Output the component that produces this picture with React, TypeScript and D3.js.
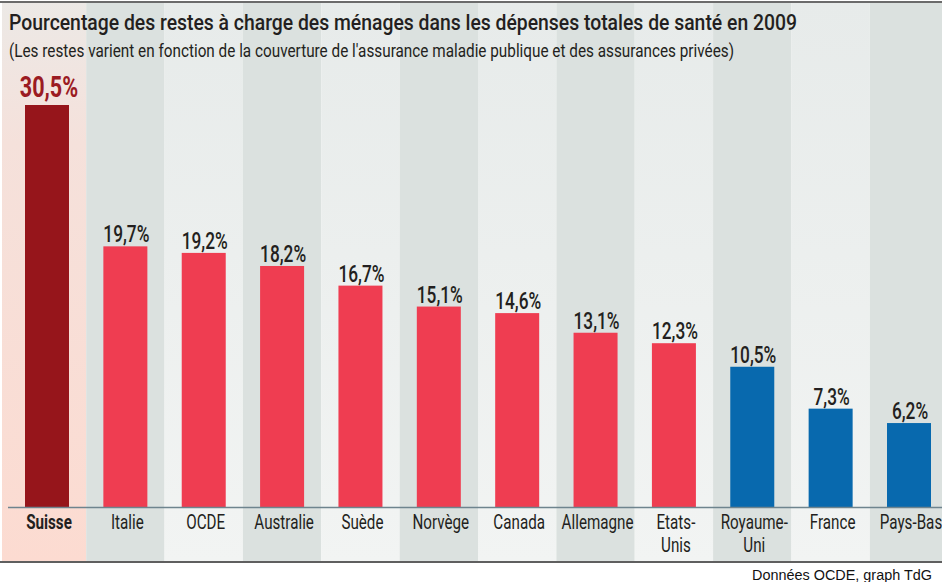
import React from "react";
import * as d3 from "d3";

const categories = ["Suisse", "Italie", "OCDE", "Australie", "Suède", "Norvège", "Canada", "Allemagne", "Etats-Unis", "Royaume-Uni", "France", "Pays-Bas"];
const labelLines = [["Suisse"], ["Italie"], ["OCDE"], ["Australie"], ["Suède"], ["Norvège"], ["Canada"], ["Allemagne"], ["Etats-", "Unis"], ["Royaume-", "Uni"], ["France"], ["Pays-Bas"]];
const values = [30.5, 19.7, 19.2, 18.2, 16.7, 15.1, 14.6, 13.1, 12.3, 10.5, 7.3, 6.2];
const valueLabels = ["30,5%", "19,7%", "19,2%", "18,2%", "16,7%", "15,1%", "14,6%", "13,1%", "12,3%", "10,5%", "7,3%", "6,2%"];
const groups = ["ch", "red", "red", "red", "red", "red", "red", "red", "red", "blue", "blue", "blue"];

const title = "Pourcentage des restes à charge des ménages dans les dépenses totales de santé en 2009";
const subtitle = "(Les restes varient en fonction de la couverture de l'assurance maladie publique et des assurances privées)";
const source = "Données OCDE, graph TdG";

const W = 942;
const H = 582;
const colors: Record<string, string> = { ch: "#96151b", red: "#ef3d51", blue: "#0869ae" };

export default function App() {
  const x = d3.scalePoint<string>().domain(categories).range([47, 909]);
  const y = d3.scaleLinear().domain([0, 30.5]).range([504.2, 105]);
  const baseline = 507;
  const step = x.step();
  const barW = 44;
  const font = "Roboto, 'Noto Sans', sans-serif";

  return (
    <svg width={W} height={H} style={{ position: "absolute", left: 0, top: 0, background: "#fff" }}>
      <defs>
        <linearGradient id="pink" x1="0" y1="0" x2="0" y2="1">
          <stop offset="0" stopColor="#ece9e6" />
          <stop offset="0.25" stopColor="#f5e1db" />
          <stop offset="1" stopColor="#fcdbd1" />
        </linearGradient>
        <linearGradient id="light" x1="0" y1="0" x2="0" y2="1">
          <stop offset="0" stopColor="#e7ebea" />
          <stop offset="1" stopColor="#f2f4f3" />
        </linearGradient>
      </defs>
      {categories.map((c, i) => {
        const cx = x(c)!;
        const x0 = i === 0 ? 2 : cx - step / 2;
        const x1 = i === categories.length - 1 ? W : cx + step / 2;
        const fill = i === 0 ? "url(#pink)" : i % 2 === 1 ? "#dbe1df" : "url(#light)";
        return <rect key={"bg" + c} x={x0} y={2} width={x1 - x0} height={560} fill={fill} />;
      })}
      <line x1={0} x2={W} y1={2} y2={2} stroke="#6b6b6b" strokeWidth={2} />
      <line x1={0} x2={W} y1={562} y2={562} stroke="#5f5f5f" strokeWidth={2} />

      <text x={9} y={30} fontFamily={font} fontWeight={500} fontSize={22} fill="#231f20" textLength={788} lengthAdjust="spacingAndGlyphs">{title}</text>
      <text x={9} y={57} fontFamily={font} fontSize={18} fill="#231f20" textLength={725} lengthAdjust="spacingAndGlyphs">{subtitle}</text>

      {categories.map((c, i) => {
        const cx = x(c)!;
        const top = y(values[i]);
        return (
          <g key={"bar" + c}>
            <rect x={cx - barW / 2} y={top} width={barW} height={baseline - top} fill={colors[groups[i]]} />
            {i === 0 ? (
              <g transform={`translate(${cx + 2},${top - 8}) scale(0.72,1)`}>
                <text textAnchor="middle" fontFamily={font} fontWeight={700} fontSize={30} fill="#9b1b22">{valueLabels[i]}</text>
              </g>
            ) : (
              <g transform={`translate(${cx + 1},${top - 4}) scale(0.72,1)`}>
                <text textAnchor="middle" fontFamily={font} fontWeight={500} fontSize={24} fill="#231f20">{valueLabels[i]}</text>
              </g>
            )}
            {labelLines[i].map((ln, j) => (
              <g key={ln} transform={`translate(${cx + 2},${529 + j * 23}) scale(0.76,1)`}>
                <text textAnchor="middle" fontFamily={font} fontWeight={i === 0 ? 700 : 400} fontSize={20} fill="#231f20">{ln}</text>
              </g>
            ))}
          </g>
        );
      })}
      <line x1={8} x2={W} y1={507.5} y2={507.5} stroke="#6e848e" strokeWidth={1.5} />

      <text x={932} y={580} textAnchor="end" fontFamily="'Liberation Sans', Arial, sans-serif" fontSize={14} fill="#111" textLength={180} lengthAdjust="spacingAndGlyphs">{source}</text>
    </svg>
  );
}
